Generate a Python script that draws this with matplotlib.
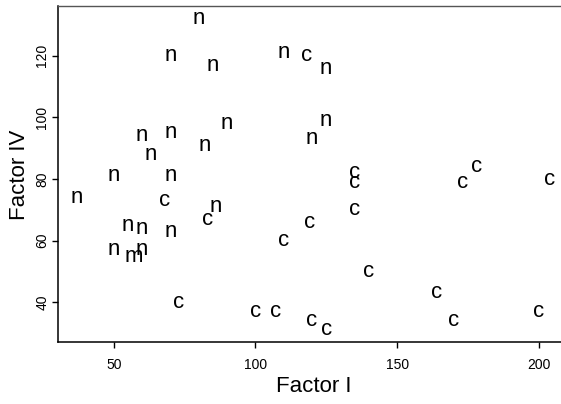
import matplotlib
matplotlib.use('Agg')
import matplotlib.pyplot as plt

plt.rcParams['font.family'] = ['Liberation Sans', 'DejaVu Sans']

# values
labels = ['n', 'n', 'n', 'n', 'c', 'n',
          'n', 'n', 'n', 'n', 'n', 'n', 'n',
          'c', 'c', 'c', 'c', 'c',
          'n', 'n', 'n', 'c', 'n', 'c', 'c', 'c',
          'n', 'n', 'n', 'c',
          'n', 'm', 'n',
          'c', 'c',
          'c', 'c', 'c', 'c', 'c', 'c', 'c']
factor_1 = [80, 70, 85, 110, 118, 125,
            90, 125, 60, 70, 120, 63, 82,
            135, 135, 178, 173, 204,
            37, 50, 70, 68, 86, 83, 119, 135,
            55, 60, 70, 110,
            50, 57, 60,
            140, 164,
            73, 100, 107, 120, 125, 170, 200]
factor_4 = [132, 120, 117, 121, 120, 116,
            98, 99, 94, 95, 93, 88, 91,
            82, 79, 84, 79, 80,
            74, 81, 81, 73, 71, 67, 66, 70,
            65, 64, 63, 60,
            57, 55, 57,
            50, 43,
            40, 37, 37, 34, 31, 34, 37]

x_ticks = [50, 100, 150, 200]
y_ticks = [40, 60, 80, 100, 120]

fig = plt.figure(figsize=(5.61, 4.04), dpi=100)
ax = fig.add_axes([58 / 561, 61.6 / 404, 511 / 561, 336 / 404])

# R style range: data range padded by 4 %
pad_x = 0.04 * (max(factor_1) - min(factor_1))
pad_y = 0.04 * (max(factor_4) - min(factor_4))
ax.set_xlim(min(factor_1) - pad_x, max(factor_1) + pad_x)
ax.set_ylim(min(factor_4) - pad_y, max(factor_4) + pad_y)

for x, y, lab in zip(factor_1, factor_4, labels):
    ax.text(x, y, lab, ha='center', va='center', fontsize=16)

for side in ['left', 'bottom']:
    ax.spines[side].set_linewidth(1.1)
    ax.spines[side].set_color('black')
ax.spines['top'].set_linewidth(1.0)
ax.spines['top'].set_color('#555555')
ax.spines['right'].set_visible(False)

ax.set_xticks(x_ticks)
ax.set_yticks(y_ticks)
ax.tick_params(axis='both', direction='out', length=4.3, width=1.0,
               labelsize=10)
ax.tick_params(axis='x', pad=7)
ax.tick_params(axis='y', pad=2)
plt.setp(ax.get_yticklabels(), rotation=90, va='center')

ax.set_xlabel('Factor I', fontsize=16, labelpad=2.5)
ax.set_ylabel('Factor IV', fontsize=16, labelpad=4)

fig.savefig('out.png', dpi=100)
